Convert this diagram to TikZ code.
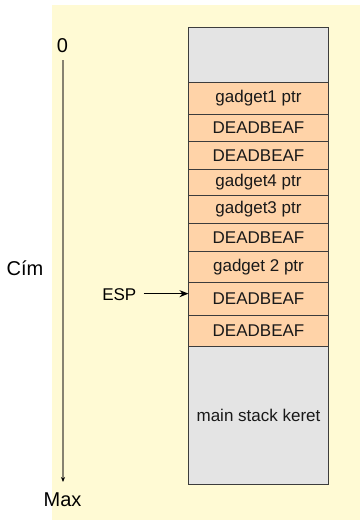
\documentclass[tikz,border=0pt]{standalone}
\usepackage{fontspec}
\setmainfont{Liberation Sans}
\usetikzlibrary{arrows.meta,positioning}
\definecolor{bgCol}{HTML}{FFFAD4}
\definecolor{slotCol}{HTML}{FFD3A8}
\definecolor{frameCol}{HTML}{E4E4E4}
\definecolor{edgeCol}{HTML}{3C3C3C}
\definecolor{axisCol}{HTML}{878270}
\tikzset{
  cell/.style={draw=edgeCol, line width=1pt, fill=slotCol, minimum width=140pt,
               inner sep=0pt, outer sep=0pt, font=\fontsize{17}{20}\selectfont, text=black!90},
  frame/.style={cell, fill=frameCol},
  axislbl/.style={anchor=base, inner sep=0pt, font=\fontsize{20}{24}\selectfont},
  axis/.style={-{Stealth[length=5pt,width=4pt,black]}, draw=axisCol, line width=1.5pt}, % address axis
  ptr/.style={-{Stealth[length=9pt,width=7pt]}, line width=1.5pt},                    % stack pointer
}
\begin{document}
\begin{tikzpicture}[x=1pt,y=-1pt]
  \useasboundingbox (0,0) rectangle (360,520);
  \fill[bgCol] (52,5) rectangle (360,520);

  % stack cells, top to bottom
  \node[frame, minimum height=55pt, anchor=north] (slot0) at (258.5,27) {};
  \foreach \lbl/\h [count=\i from 1, remember=\i as \j (initially 0)] in
    {gadget1 ptr/32, DEADBEAF/27.5, DEADBEAF/27.5, gadget4 ptr/26.7, gadget3 ptr/27.6,
     DEADBEAF/27.7, gadget 2 ptr/31.7, DEADBEAF/32.3, DEADBEAF/31.7}
    {\node[cell, minimum height=\h pt, below=0pt of slot\j] (slot\i) {\lbl};}
  \node[frame, minimum height=137.3pt, below=0pt of slot9] (slot10) {main stack keret};

  % address axis
  \node[axislbl] (zero) at (62.5,52.7) {0};
  \node[axislbl] (max) at (62.5,506) {Max};
  \node[axislbl] (cim) at (25,275) {Cím};
  \coordinate (atop) at (63,60);
  \coordinate (abot) at (63,482);
  \draw[axis] (atop) -- (abot);

  % ESP
  \node[anchor=base, inner sep=0pt, font=\fontsize{17}{20}\selectfont] (esp) at (119.3,300) {ESP};
  \coordinate (espstart) at ([xshift=7pt,yshift=0.5pt]esp.east);
  \draw[ptr] (espstart) -- (espstart -| slot8.west);
\end{tikzpicture}
\end{document}
